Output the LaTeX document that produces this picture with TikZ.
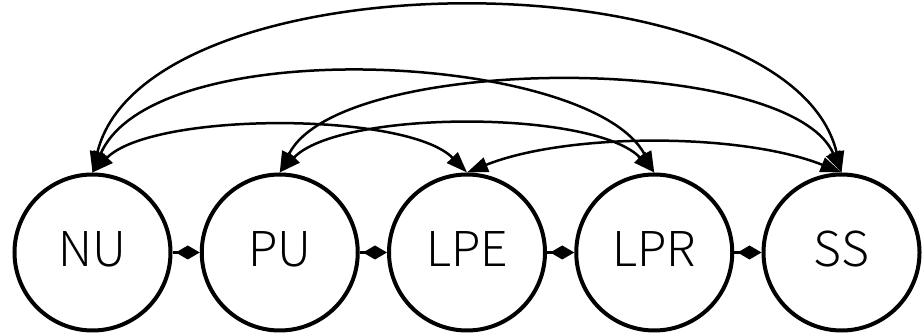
\documentclass[tikz,border=0pt]{standalone}
\usepackage{fontspec}
\setmainfont{Noto Sans CJK JP Light}
\usetikzlibrary{arrows.meta}
\begin{document}
\begin{tikzpicture}[x=1pt,y=1pt,
  state/.style={circle, draw, line width=4pt, minimum size=156pt, inner sep=0pt,
    font=\fontsize{48}{48}\selectfont, text height=35pt, text depth=7pt},
  arc/.style={line width=2.5pt, {Triangle[length=21pt,width=15pt]}-{Triangle[length=21pt,width=15pt]}},
  dia/.style={line width=2.5pt, -{Diamond[length=24pt,width=14pt]}}]
\fill[white] (0,0) rectangle (923,336);
\useasboundingbox (0,0) rectangle (923,336);
\node[state] (NU)  at (92.5,83.5)   {NU};
\node[state] (PU)  at (279.75,83.5) {PU};
\node[state] (LPE) at (467,83.5)    {LPE};
\node[state] (LPR) at (654.25,83.5) {LPR};
\node[state] (SS)  at (841.5,83.5)  {SS};
% curved bidirectional arcs
\draw[arc] (NU.north)  .. controls +(53,219)  and +(-53,219)  .. (SS.north);
\draw[arc] (NU.north)  .. controls +(62,142)  and +(-64,120)  .. (LPR.north);
\draw[arc] (PU.north)  .. controls +(60,120)  and +(-52,120)  .. (SS.north);
\draw[arc] (NU.north)  .. controls +(60,61)   and +(-60,61)   .. (LPE.north);
\draw[arc] (PU.north)  .. controls +(60,63)   and +(-60,63)   .. (LPR.north);
\draw[arc] (LPE.north) .. controls +(100,40)  and +(-100,40)  .. (SS.north);
% diamond links
\draw[dia] (NU) -- (PU);
\draw[dia] (PU) -- (LPE);
\draw[dia] (LPE) -- (LPR);
\draw[dia] (LPR) -- (SS);
\end{tikzpicture}
\end{document}
